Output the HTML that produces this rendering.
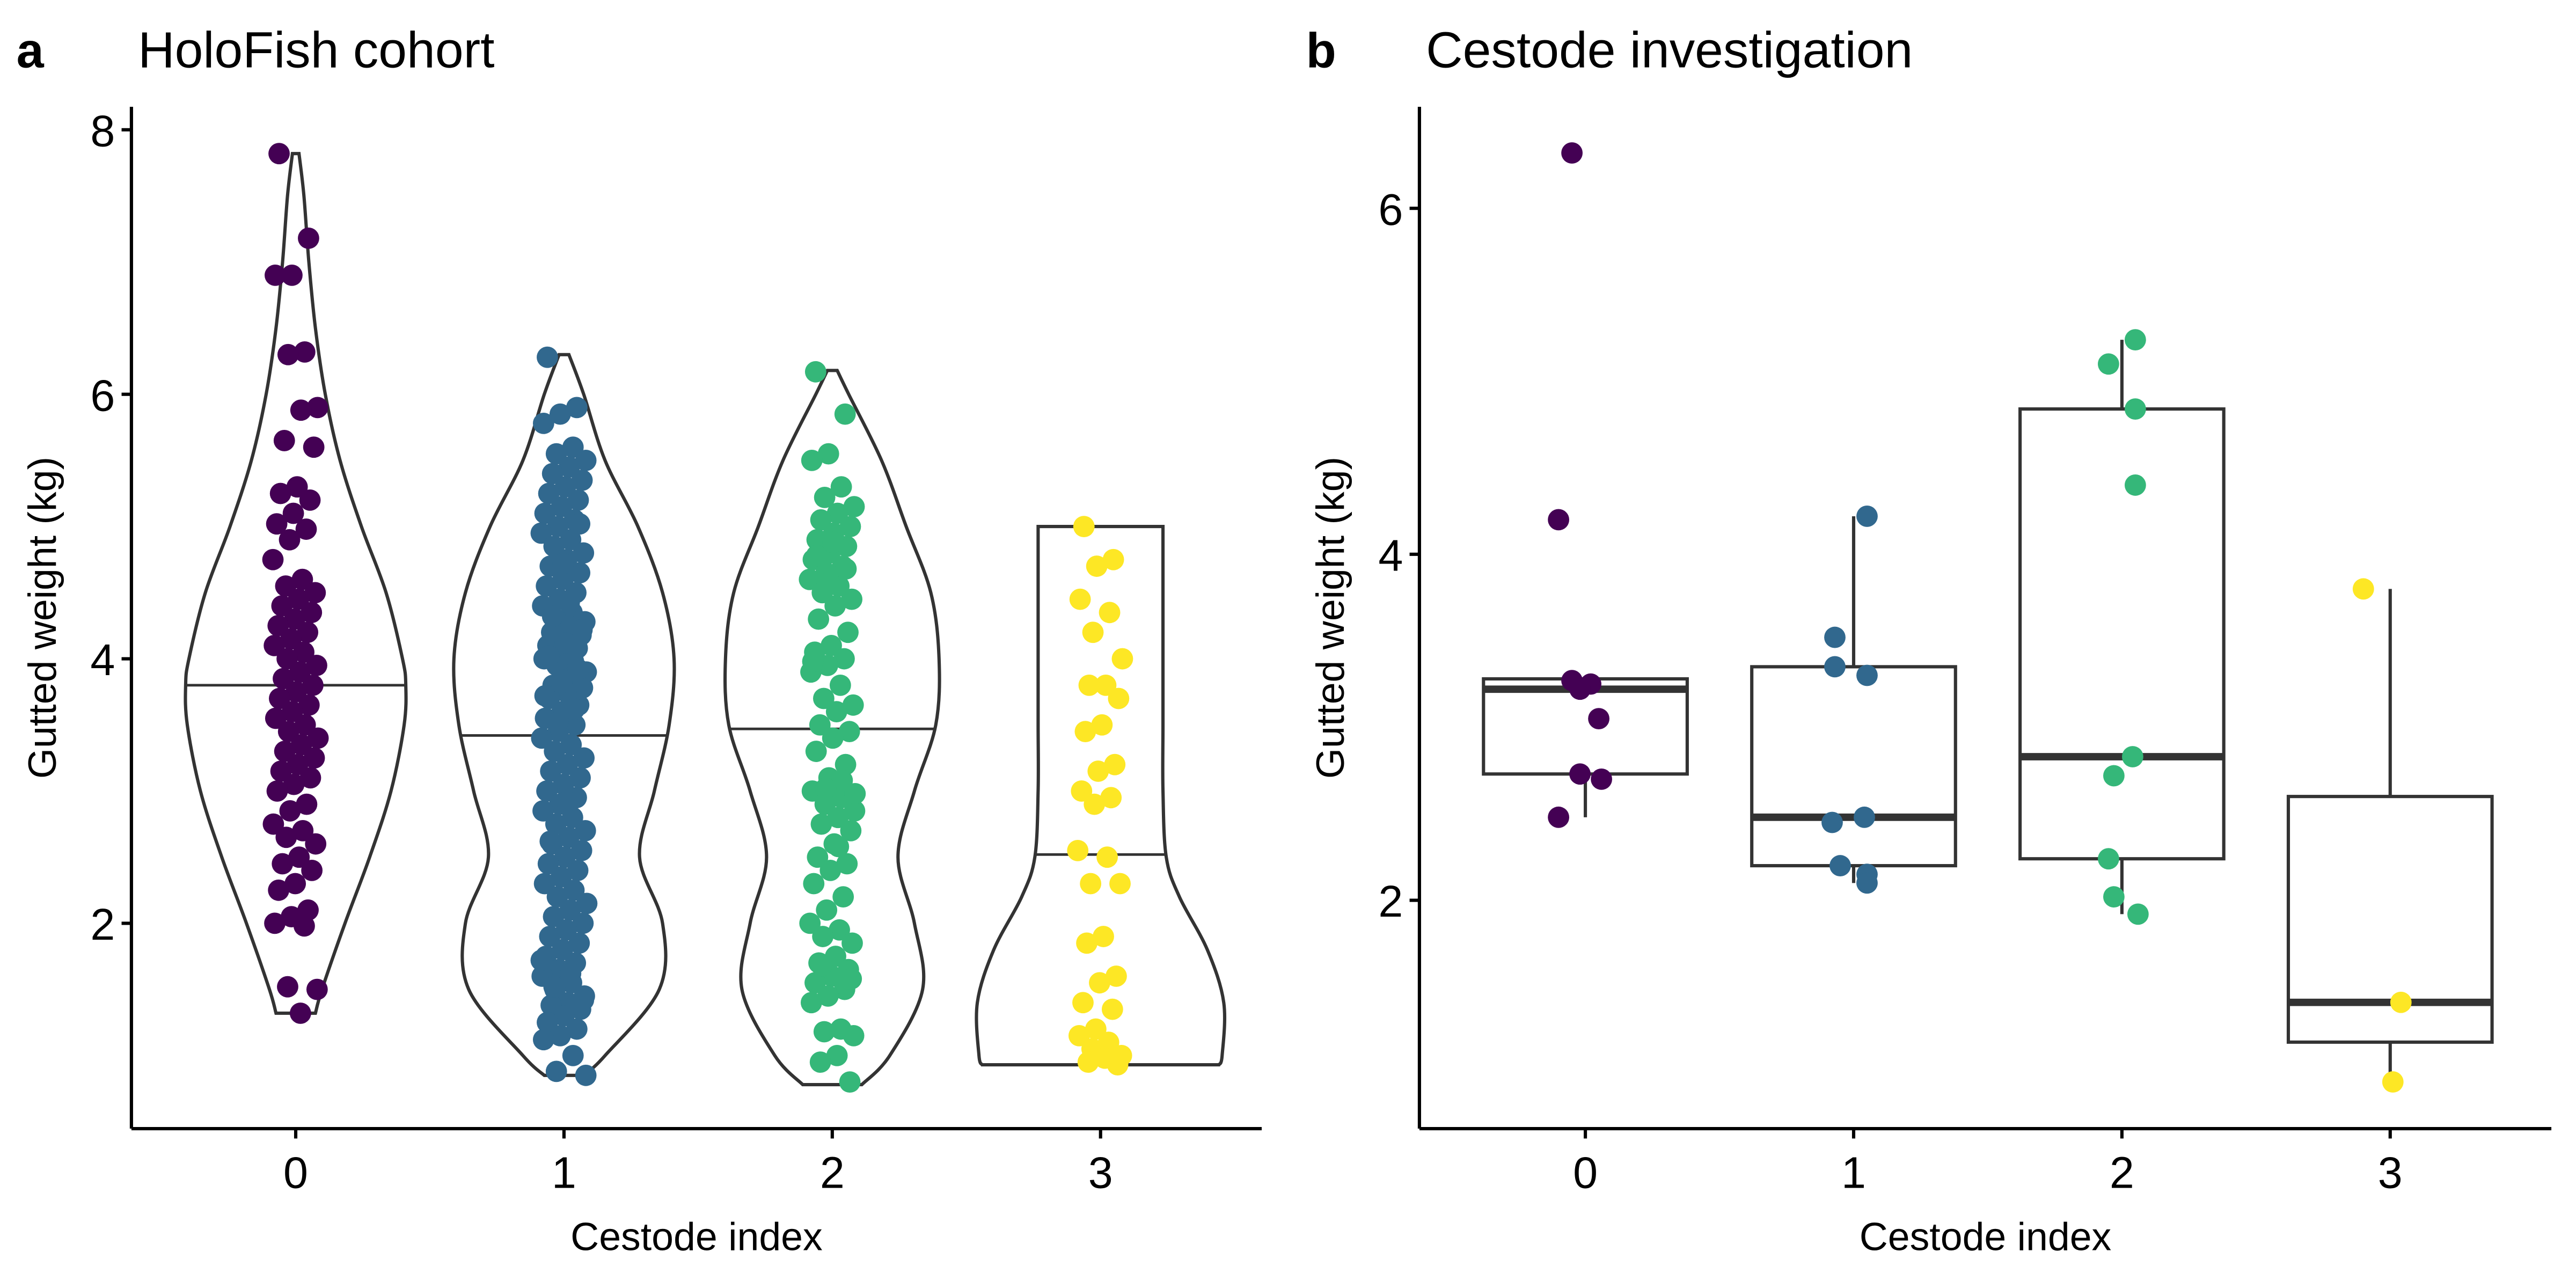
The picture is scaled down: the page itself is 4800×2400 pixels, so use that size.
<!DOCTYPE html>
<html><head><meta charset="utf-8"><style>
html,body{margin:0;padding:0;background:#fff;}
svg{display:block;font-family:"Liberation Sans",Arial,sans-serif;}
</style></head><body>
<svg id="chart" width="4800" height="2400" viewBox="0 0 1568 784" xmlns="http://www.w3.org/2000/svg">
<rect width="1568" height="784" fill="#fff"/>
<text x="10" y="41" font-size="30" font-weight="bold">a</text>
<text x="84" y="41" font-size="31">HoloFish cohort</text>
<text x="795" y="41" font-size="30" font-weight="bold">b</text>
<text x="868" y="41" font-size="31">Cestode investigation</text>
<g id="pa"></g>
<g id="pb"></g>
</svg>
<script>
const categories = ["0","1","2","3"];
const colors = ["#440154","#31688E","#35B779","#FDE725"];
const ticksA = [2,4,6,8];
const ticksB = [2,4,6];
// violin profiles: values and half-widths
const violinV0 = [1.32,1.5,2,2.5,3,3.5,3.8,4,4.5,5,5.5,6,6.5,7,7.5,7.82];
const violinW0 = [12,16,30,45,58,66,67,65,55,40,27,18,12,8,5,2];
const violinV1 = [0.85,1.0,1.5,2,2.5,3,3.5,4,4.5,5,5.5,6,6.3];
const violinW1 = [12,25,58,60,46,55,64,67,60,45,25,12,3];
const violinV2 = [0.78,1.0,1.5,2,2.5,3,3.5,4,4.5,5,5.5,6,6.18];
const violinW2 = [18,35,55,50,40,50,63,65,60,45,30,10,3];
const violinV3 = [0.93,1.0,1.4,1.8,2.2,2.5,3,3.5,4,4.5,5.0];
const violinW3 = [72,74,75,65,48,40,38,38,38,38,38];
const mediansA = [3.8,3.42,3.47,2.52];
const pointsA0 = [7.82,7.18,6.9,6.9,6.32,6.3,5.9,5.88,5.65,5.6,5.3,5.25,5.2,5.1,5.02,4.98,4.9,4.75,4.6,4.55,4.5,4.45,4.4,4.35,4.3,4.25,4.2,4.15,4.1,4.05,4.0,3.95,3.9,3.85,3.8,3.75,3.7,3.65,3.6,3.55,3.5,3.45,3.4,3.35,3.3,3.25,3.2,3.15,3.1,3.05,3.0,2.9,2.85,2.75,2.7,2.65,2.6,2.5,2.45,2.4,2.3,2.25,2.1,2.05,2.0,1.98,1.52,1.5,1.32];
const pointsA1 = [6.28,5.9,5.85,5.78,5.6,5.55,5.5,5.45,5.4,5.35,5.3,5.25,5.2,5.15,5.1,5.05,5.0,4.95,4.9,4.85,4.8,4.75,4.7,4.65,4.6,4.55,4.5,4.45,4.4,4.35,4.3,4.28,4.25,4.2,4.18,4.15,4.1,4.08,4.05,4.0,3.98,3.95,3.9,3.85,3.8,3.78,3.75,3.7,3.65,3.6,3.55,3.5,3.45,3.4,3.35,3.3,3.25,3.2,3.15,3.1,3.05,3.0,2.95,2.9,2.85,2.8,2.75,2.7,2.65,2.6,2.55,2.5,2.45,2.4,2.35,2.3,2.25,2.2,2.15,2.1,2.05,2.0,1.95,1.9,1.85,1.8,1.75,1.7,1.65,1.6,1.55,1.5,1.45,1.4,1.38,1.35,1.3,1.25,1.2,1.15,1.12,1.0,0.88,0.85,4.42,4.32,4.22,4.12,4.02,3.92,3.82,3.72,3.62,3.52,1.72,1.62,1.52,1.42,2.92,2.62,5.02,4.72];
const pointsA2 = [6.17,5.85,5.55,5.5,5.3,5.22,5.15,5.1,5.05,5.0,4.95,4.9,4.85,4.8,4.75,4.7,4.65,4.6,4.55,4.5,4.45,4.4,4.3,4.2,4.1,4.05,4.0,3.95,3.9,3.8,3.7,3.65,3.6,3.5,3.45,3.4,3.3,3.2,3.1,3.0,2.95,2.9,2.85,2.8,2.75,2.7,2.6,2.5,2.45,2.4,2.3,2.2,2.1,2.0,1.95,1.9,1.85,1.75,1.7,1.65,1.6,1.55,1.5,1.45,1.4,1.2,1.18,1.15,1.0,0.95,0.8,4.88,4.78,4.68,4.58,3.98,3.08,3.02,2.98,2.58,1.68,1.58];
const pointsA3 = [5.0,4.75,4.7,4.45,4.35,4.2,4.0,3.8,3.8,3.7,3.5,3.45,3.2,3.15,3.0,2.95,2.9,2.55,2.5,2.3,2.3,1.9,1.85,1.6,1.55,1.4,1.35,1.2,1.15,1.1,1.05,1.0,0.98,0.95,0.93];
// panel b boxplots
const boxLow = [2.73,2.2,2.24,1.18];
const boxMed = [3.22,2.48,2.83,1.41];
const boxHigh = [3.28,3.35,4.84,2.6];
const whiskLow = [2.48,2.1,1.92,0.95];
const whiskHigh = [3.28,4.22,5.24,3.8];
const pointsB0 = [6.32,4.2,3.27,3.25,3.22,3.05,2.73,2.7,2.48];
const pointsB1 = [4.22,3.52,3.35,3.3,2.48,2.45,2.2,2.15,2.1];
const pointsB2 = [5.24,5.1,4.84,4.4,2.83,2.72,2.24,2.02,1.92];
const pointsB3 = [3.8,1.41,0.95];
const jitterB0 = [-0.05,-0.1,-0.05,0.02,-0.02,0.05,-0.02,0.06,-0.1];
const jitterB1 = [0.05,-0.07,-0.07,0.05,0.04,-0.08,-0.05,0.05,0.05];
const jitterB2 = [0.05,-0.05,0.05,0.05,0.04,-0.03,-0.05,-0.03,0.06];
const jitterB3 = [-0.1,0.04,0.01];

const NS="http://www.w3.org/2000/svg";
function mk(parent,tag,attrs){const e=document.createElementNS(NS,tag);for(const k in attrs)e.setAttribute(k,attrs[k]);parent.appendChild(e);return e;}
const xA = i => 180 + i*163.3;
const yA = v => 562 - (v-2)*80.5;
const xB = i => 965 + i*163.3;
const yB = v => 548 - (v-2)*105.3;
const unitA = 163.3;

function axes(g, x0, x1, yTop, yBot, ticks, yf, xf, ylabelX, name){
  let l=mk(g,'line',{x1:x0,y1:yTop,x2:x0,y2:yBot,stroke:'#000','stroke-width':2});
   
  l=mk(g,'line',{x1:x0,y1:yBot,x2:x1,y2:yBot,stroke:'#000','stroke-width':2});
   
  ticks.forEach(t=>{
    mk(g,'line',{x1:x0-6,y1:yf(t),x2:x0,y2:yf(t),stroke:'#000','stroke-width':2});
    const tx=mk(g,'text',{x:x0-10,y:yf(t)+10,'font-size':27,'text-anchor':'end',fill:'#000'});
    tx.textContent=t;
    
    
  });
  categories.forEach((c,i)=>{
    mk(g,'line',{x1:xf(i),y1:yBot,x2:xf(i),y2:yBot+6,stroke:'#000','stroke-width':2});
    const tx=mk(g,'text',{x:xf(i),y:yBot+36,'font-size':27,'text-anchor':'middle',fill:'#000'});
    tx.textContent=c;
    
    
  });
  let t=mk(g,'text',{x:(x0+x1)/2,y:761,'font-size':24,'text-anchor':'middle'});
  t.textContent='Cestode index';
   
  t=mk(g,'text',{x:ylabelX,y:376,'font-size':24,'text-anchor':'middle',transform:`rotate(-90 ${ylabelX} 376)`});
  t.textContent='Gutted weight (kg)';
   
}
function interp(vs,ws,v){for(let k=0;k<vs.length-1;k++){if(v>=vs[k]&&v<=vs[k+1]){const f=(v-vs[k])/(vs[k+1]-vs[k]);return ws[k]+f*(ws[k+1]-ws[k]);}}return 0;}
function smooth(pts){
  let d='';
  for(let i=0;i<pts.length-1;i++){
    const p0=pts[Math.max(0,i-1)],p1=pts[i],p2=pts[i+1],p3=pts[Math.min(pts.length-1,i+2)];
    const c1=[p1[0]+(p2[0]-p0[0])/6,p1[1]+(p2[1]-p0[1])/6];
    const c2=[p2[0]-(p3[0]-p1[0])/6,p2[1]-(p3[1]-p1[1])/6];
    d+=` C${c1[0]},${c1[1]} ${c2[0]},${c2[1]} ${p2[0]},${p2[1]}`;
  }
  return d;
}

const pa=document.getElementById('pa');
axes(pa,80,768,65,687,ticksA,yA,xA,34,'panel-a');
const vV=[violinV0,violinV1,violinV2,violinV3], vW=[violinW0,violinW1,violinW2,violinW3];
const ptsA=[pointsA0,pointsA1,pointsA2,pointsA3];
vV.forEach((vs,i)=>{
  const ws=vW[i], cx=xA(i);
  const right=vs.map((v,k)=>[cx+ws[k],yA(v)]);
  const left=vs.map((v,k)=>[cx-ws[k],yA(v)]).reverse();
  let d='M'+right[0][0]+','+right[0][1]+smooth(right)+' L'+left[0][0]+','+left[0][1]+smooth(left)+' Z';
  const p=mk(pa,'path',{d:d,fill:'none',stroke:'#333','stroke-width':2});
   
  const mw=interp(vs,ws,mediansA[i]);
  const m=mk(pa,'line',{x1:cx-mw,x2:cx+mw,y1:yA(mediansA[i]),y2:yA(mediansA[i]),stroke:'#333','stroke-width':1.6});
   
  ptsA[i].forEach((v,k)=>{
    const j=(((k*7919+13)%97)/96-0.5)*2*0.085;
    const c=mk(pa,'circle',{cx:cx+j*unitA,cy:yA(v),r:6.5,fill:colors[i]});
     
  });
});

const pb=document.getElementById('pb');
axes(pb,864,1553,65,687,ticksB,yB,xB,818,'panel-b');
const ptsB=[pointsB0,pointsB1,pointsB2,pointsB3], jB=[jitterB0,jitterB1,jitterB2,jitterB3];
categories.forEach((c,i)=>{
  const cx=xB(i), hw=62;
  let l=mk(pb,'line',{x1:cx,x2:cx,y1:yB(whiskHigh[i]),y2:yB(boxHigh[i]),stroke:'#333','stroke-width':2});
   
  l=mk(pb,'line',{x1:cx,x2:cx,y1:yB(boxLow[i]),y2:yB(whiskLow[i]),stroke:'#333','stroke-width':2});
   
  const r=mk(pb,'rect',{x:cx-hw,y:yB(boxHigh[i]),width:2*hw,height:yB(boxLow[i])-yB(boxHigh[i]),fill:'#fff',stroke:'#333','stroke-width':2});
   
  l=mk(pb,'line',{x1:cx-hw,x2:cx+hw,y1:yB(boxMed[i]),y2:yB(boxMed[i]),stroke:'#333','stroke-width':4.5});
   
  ptsB[i].forEach((v,k)=>{
    const p=mk(pb,'circle',{cx:cx+jB[i][k]*163.3,cy:yB(v),r:6.5,fill:colors[i]});
     
  });
});
</script>
</body></html>
